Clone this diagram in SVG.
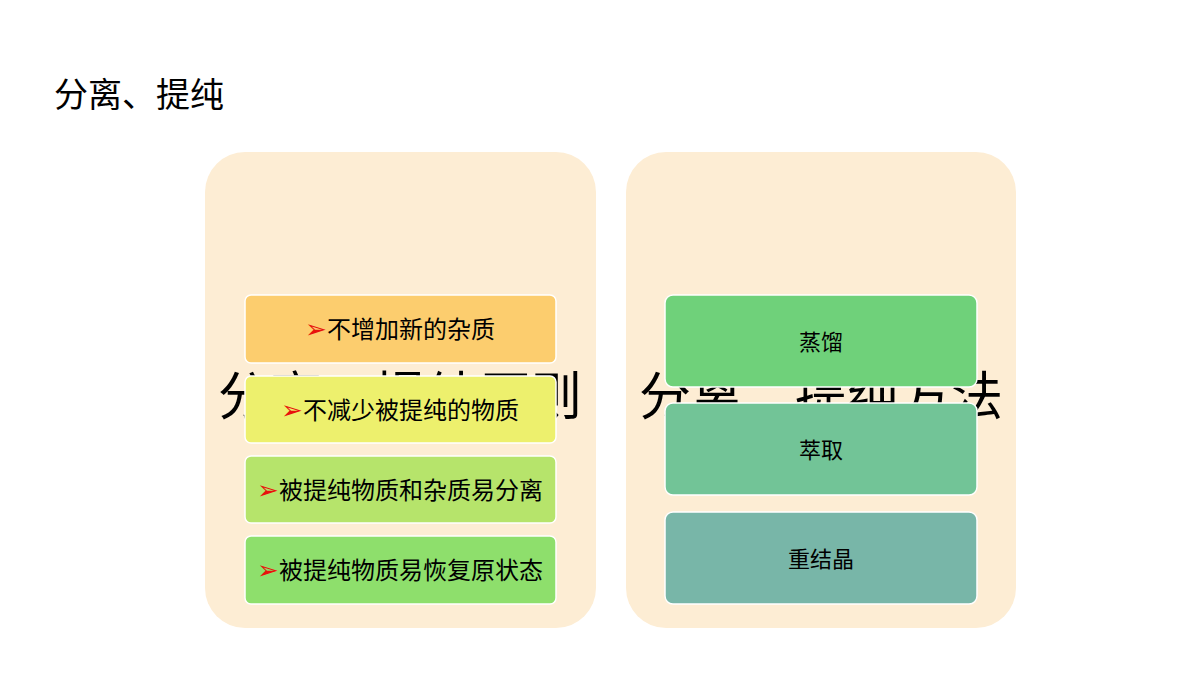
<svg xmlns="http://www.w3.org/2000/svg" width="1200" height="675" viewBox="0 0 1200 675">
<style>
text{font-family:"Liberation Sans","Noto Sans CJK SC",sans-serif;fill:#000}
.c{fill:#FDEDD4}
.b{stroke:#fff;stroke-width:1.5}
.t{font-size:22px;text-anchor:middle}
.tl{font-size:24px;text-anchor:middle}
.big{font-size:52px;text-anchor:middle}
.ar{fill:#E8120C;font-size:26px}
</style>
<rect width="1200" height="675" fill="#fff"/>
<text x="54" y="107" font-size="34">分离、提纯</text>
<g id="left">
<rect class="c" x="205" y="152" width="391" height="476" rx="40"/>
<text class="big" x="400" y="415">分离、提纯原则</text>
<g id="l1"><rect class="b" x="245" y="295" width="311" height="68" rx="6" fill="#FCCD6E"/><text class="tl" x="400" y="338"><tspan class="ar">➢</tspan>不增加新的杂质</text></g>
<g id="l2"><rect class="b" x="245" y="376" width="311" height="67" rx="6" fill="#EDF06D"/><text class="tl" x="400" y="419"><tspan class="ar">➢</tspan>不减少被提纯的物质</text></g>
<g id="l3"><rect class="b" x="245" y="456" width="311" height="67" rx="6" fill="#B6E46B"/><text class="tl" x="400" y="499"><tspan class="ar">➢</tspan>被提纯物质和杂质易分离</text></g>
<g id="l4"><rect class="b" x="245" y="536" width="311" height="68" rx="6" fill="#8EDF6C"/><text class="tl" x="400" y="579"><tspan class="ar">➢</tspan>被提纯物质易恢复原状态</text></g>
</g>
<g id="right">
<rect class="c" x="626" y="152" width="390" height="476" rx="40"/>
<text class="big" x="821" y="415">分离、提纯方法</text>
<g id="r1"><rect class="b" x="665" y="295" width="312" height="92" rx="8" fill="#6FD17A"/><text class="t" x="821" y="350">蒸馏</text></g>
<g id="r2"><rect class="b" x="665" y="403" width="312" height="92" rx="8" fill="#72C497"/><text class="t" x="821" y="458">萃取</text></g>
<g id="r3"><rect class="b" x="665" y="512" width="312" height="92" rx="8" fill="#78B6A8"/><text class="t" x="821" y="567">重结晶</text></g>
</g>
<g id="connectors"/>
</svg>
